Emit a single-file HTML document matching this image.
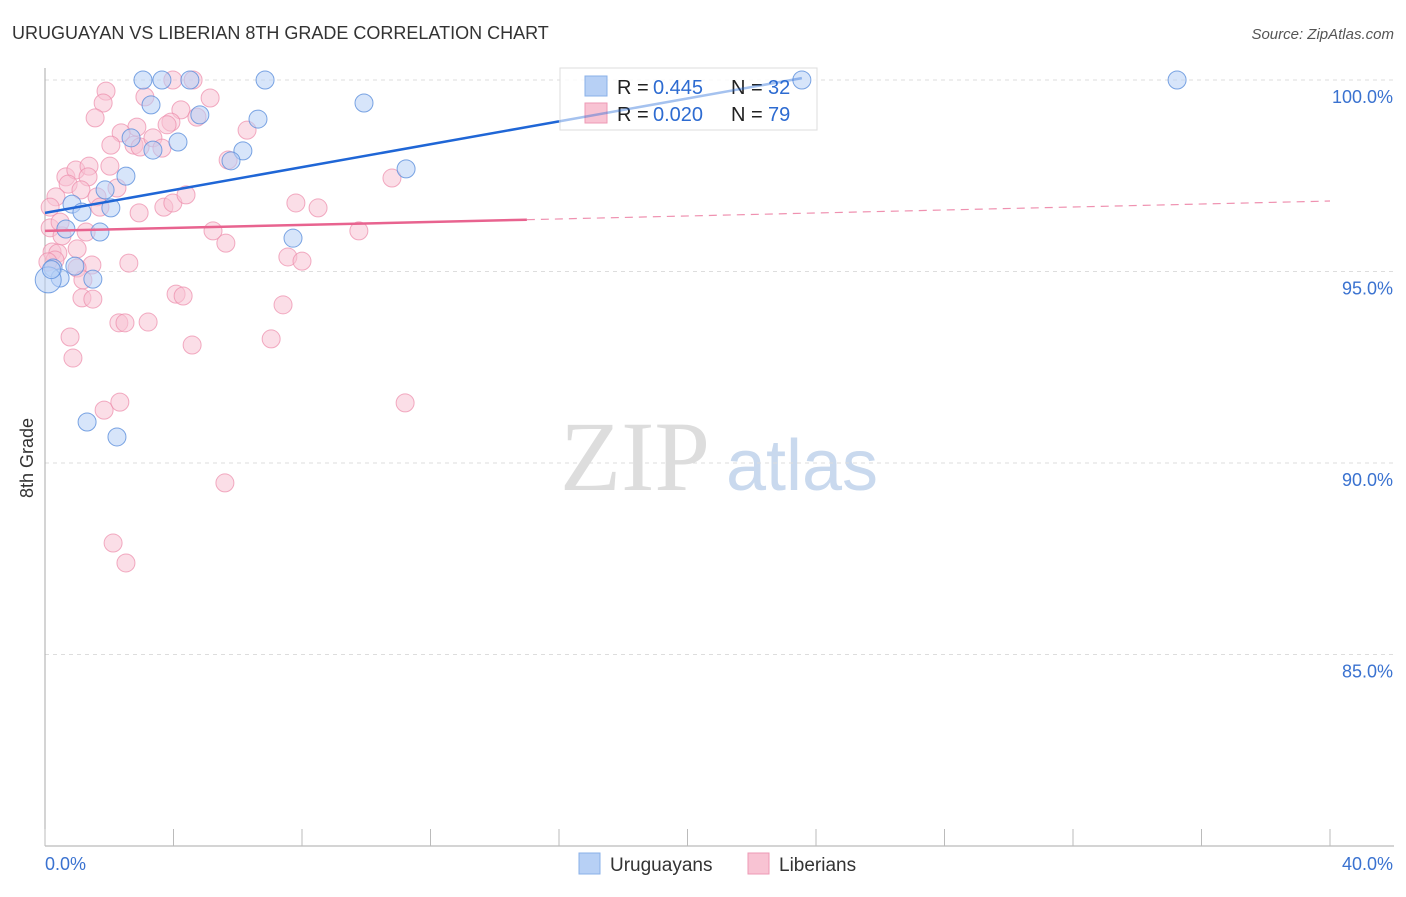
<!DOCTYPE html>
<html><head><meta charset="utf-8"><style>
body{margin:0;background:#fff;font-family:"Liberation Sans",sans-serif}
</style></head><body>
<svg id="c" width="1406" height="892" font-family="Liberation Sans, sans-serif">
<text x="12" y="39" font-size="18" fill="#333">URUGUAYAN VS LIBERIAN 8TH GRADE CORRELATION CHART</text>
<text x="1394" y="39" font-size="15" fill="#555" font-style="italic" text-anchor="end">Source: ZipAtlas.com</text>
<text x="33" y="458" font-size="18" fill="#333" transform="rotate(-90 33 458)" text-anchor="middle">8th Grade</text>
<g><text x="635" y="490" font-size="100" fill="#ddd" style="font-family:'Liberation Serif',serif" text-anchor="middle">ZIP</text><text x="802" y="490" font-size="72" fill="#c9d9ee" text-anchor="middle">atlas</text></g>
<g id="grid"></g><g id="axes"></g>
<g>
<rect x="560" y="68" width="257" height="62" fill="#fff" fill-opacity="0.85" stroke="#ddd"/>
<rect x="585" y="76" width="22" height="20" fill="#b7d0f5" stroke="#8ab0e8"/>
<rect x="585" y="103" width="22" height="20" fill="#f8c3d3" stroke="#ee9ab4"/>
<text x="617" y="94" font-size="20" fill="#222">R = </text><text x="653" y="94" font-size="20" fill="#2d6bd1">0.445</text>
<text x="731" y="94" font-size="20" fill="#222">N = </text><text x="768" y="94" font-size="20" fill="#2d6bd1">32</text>
<text x="617" y="121" font-size="20" fill="#222">R = </text><text x="653" y="121" font-size="20" fill="#2d6bd1">0.020</text>
<text x="731" y="121" font-size="20" fill="#222">N = </text><text x="768" y="121" font-size="20" fill="#2d6bd1">79</text>
</g>
<g id="pts"></g><g id="lines"></g>
<g>
<rect x="579" y="853" width="21" height="21" fill="#b7d0f5" stroke="#8ab0e8"/>
<text x="610" y="871" font-size="19" fill="#333">Uruguayans</text>
<rect x="748" y="853" width="21" height="21" fill="#f8c3d3" stroke="#ee9ab4"/>
<text x="779" y="871" font-size="19" fill="#333">Liberians</text>
</g>
</svg>
<script>
const yTicks=[100,95,90,85];
const blueX=[3.05,3.64,4.51,6.85,23.56,35.24,3.30,9.93,4.82,6.63,2.68,4.14,3.36,6.16,5.79,11.24,2.52,1.87,2.05,0.84,1.15,0.65,1.71,7.72,0.93,0.25,0.47,1.49,1.31,2.24,0.1,0.2];
const blueY=[100,100,100,100,100,100,99.35,99.40,99.09,98.98,98.49,98.38,98.17,98.15,97.89,97.68,97.49,97.13,96.66,96.76,96.55,96.11,96.03,95.87,95.14,95.09,94.83,94.80,91.07,90.68,94.78,95.05];
const pinkX=[3.98,4.61,1.90,1.81,1.56,3.11,5.14,4.23,3.92,3.80,2.86,2.37,4.73,2.05,2.77,2.96,3.36,3.64,6.29,5.70,0.65,0.96,1.37,2.02,1.34,0.72,1.12,2.24,0.34,1.62,1.71,2.93,3.70,3.98,4.39,7.81,8.50,10.80,0.16,0.16,1.28,5.23,5.63,9.77,1.00,0.22,0.40,7.56,8.00,2.61,1.46,1.00,1.18,1.15,1.49,4.08,4.30,7.41,2.30,2.49,3.21,0.78,0.87,4.58,7.04,1.84,2.33,11.21,5.60,2.12,2.52,0.31,0.53,0.09,0.47];
const pinkY=[100,100,99.71,99.40,99.01,99.56,99.53,99.22,98.90,98.83,98.77,98.62,99.03,98.30,98.30,98.25,98.49,98.22,98.69,97.91,97.47,97.65,97.75,97.75,97.47,97.28,97.13,97.18,96.95,96.95,96.68,96.53,96.68,96.79,97.00,96.79,96.66,97.44,96.68,96.14,96.03,96.06,95.74,96.06,95.59,95.51,95.48,95.38,95.27,95.22,95.17,95.09,94.78,94.31,94.28,94.41,94.36,94.13,93.66,93.66,93.68,93.29,92.74,93.08,93.24,91.38,91.59,91.57,89.48,87.91,87.39,95.30,95.93,95.25,96.29];
const blueTrend=[[0,96.53],[23.56,100.05]];
const pinkTrend=[[0,96.06],[40,96.84]];
const X=v=>45+v/40*1285, Y=v=>80+(100-v)*38.3;
const NS='http://www.w3.org/2000/svg';
function mk(t,p,a){const e=document.createElementNS(NS,t);for(const k in a)e.setAttribute(k,a[k]);document.getElementById(p).appendChild(e);return e;}
yTicks.forEach(t=>{
 const l=mk('line','grid',{x1:45,x2:1394,y1:Y(t),y2:Y(t),stroke:'#ddd','stroke-dasharray':'4,4'});
 
 
 const tx=mk('text','grid',{x:1393,y:Y(t)+23,'font-size':18,fill:'#3a72d0','text-anchor':'end'});tx.textContent=t.toFixed(1)+'%';
 
 
});
mk('line','axes',{x1:45,x2:45,y1:68,y2:846,stroke:'#aaa'});
mk('line','axes',{x1:45,x2:1394,y1:846,y2:846,stroke:'#aaa'});
for(let i=0;i<=10;i++){const x=X(i*4);mk('line','axes',{x1:x,x2:x,y1:829,y2:846,stroke:'#bbb'});}
const a0=mk('text','axes',{x:45,y:870,'font-size':18,fill:'#3a72d0'});a0.textContent='0.0%';


const a1=mk('text','axes',{x:1393,y:870,'font-size':18,fill:'#3a72d0','text-anchor':'end'});a1.textContent='40.0%';


pinkX.forEach((v,i)=>{const c=mk('circle','pts',{cx:X(v),cy:Y(pinkY[i]),r:9,fill:'#f8c3d3','fill-opacity':0.55,stroke:'#ec8aa9','stroke-opacity':0.7});
 
 });
blueX.forEach((v,i)=>{const c=mk('circle','pts',{cx:X(v),cy:Y(blueY[i]),r:i==30?13:9,fill:'#b7d0f5','fill-opacity':0.55,stroke:'#5b8fdc','stroke-opacity':0.8});
 
 });
const bt=(v)=>blueTrend[0][1]+(blueTrend[1][1]-blueTrend[0][1])*(v-blueTrend[0][0])/(blueTrend[1][0]-blueTrend[0][0]);
const pt=(v)=>pinkTrend[0][1]+(pinkTrend[1][1]-pinkTrend[0][1])*(v-pinkTrend[0][0])/(pinkTrend[1][0]-pinkTrend[0][0]);
let l=mk('line','lines',{x1:X(0),y1:Y(bt(0)),x2:X(16),y2:Y(bt(16)),stroke:'#1f66d6','stroke-width':2.5});


l=mk('line','lines',{x1:X(16),y1:Y(bt(16)),x2:X(blueTrend[1][0]),y2:Y(bt(blueTrend[1][0])),stroke:'#1f66d6','stroke-width':2.5,'stroke-opacity':0.4});


l=mk('line','lines',{x1:X(0),y1:Y(pt(0)),x2:X(15),y2:Y(pt(15)),stroke:'#e8638f','stroke-width':2.5});


l=mk('line','lines',{x1:X(15),y1:Y(pt(15)),x2:X(40),y2:Y(pt(40)),stroke:'#e8638f','stroke-width':1.2,'stroke-dasharray':'8,6','stroke-opacity':0.7});


</script>
</body></html>
